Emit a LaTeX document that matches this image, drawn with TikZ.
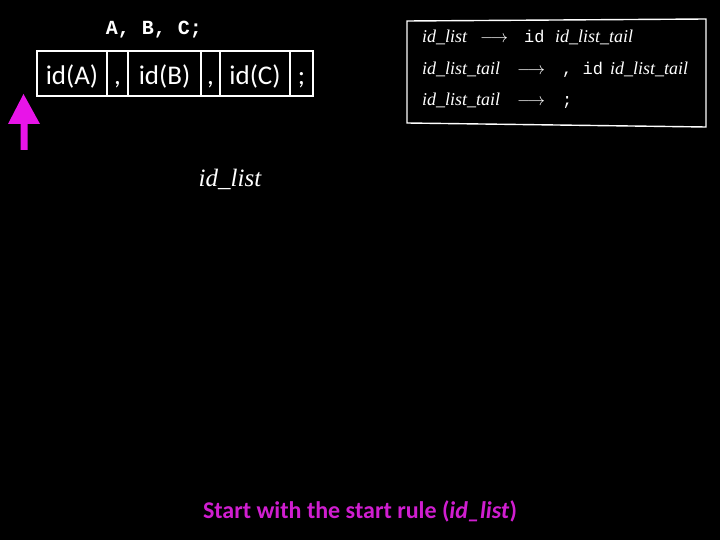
\documentclass[tikz,border=0pt]{standalone}
\usepackage{fontspec}
\setmainfont{Carlito}
\newfontfamily\serifit{Liberation Serif}
\newfontfamily\monof{Liberation Mono}
\definecolor{mag}{RGB}{232,20,232}
\definecolor{magtxt}{RGB}{208,30,208}
\begin{document}
\begin{tikzpicture}[x=1pt,y=-1pt,
  cell/.style={draw=white,line width=2.6pt,minimum height=45pt,inner sep=0pt,text height=23pt,text depth=0pt,text=white,font=\fontsize{27}{29}\selectfont},
  rule/.style={anchor=base west,inner sep=0pt,text=white,font=\serifit\itshape\fontsize{18}{20}\selectfont},
  rmono/.style={anchor=base west,inner sep=0pt,text=white,font=\monof\fontsize{17}{19}\selectfont},
  rarrow/.style={anchor=base west,inner sep=0pt,text=white,font=\fontsize{19}{21}\selectfont}]
\fill[black] (0,0) rectangle (720,540);
\useasboundingbox (0,0) rectangle (720,540);
% input text
\node[anchor=base,inner sep=0pt,text=white,font=\monof\bfseries\fontsize{20}{22}\selectfont] (src) at (154,35) {A, B, C;};
% token cells
\node[cell,minimum width=70pt] (ca) at (72,73.5) {id(A)};
\node[cell,minimum width=21pt] (c1) at (117.5,73.5) {,};
\node[cell,minimum width=73pt] (cb) at (164.5,73.5) {id(B)};
\node[cell,minimum width=19pt] (c2) at (210.5,73.5) {,};
\node[cell,minimum width=70pt] (cc) at (255,73.5) {id(C)};
\node[cell,minimum width=23pt] (c3) at (301.5,73.5) {;};
% magenta pointer arrow
\fill[mag] (23.5,94) -- (40,124) -- (27.5,124) -- (27.5,150) -- (20.5,150) -- (20.5,124) -- (8,124) -- cycle;
% grammar box
\draw[white,line width=1.4pt] (407,21) -- (706,19) -- (706,127) -- (407,123) -- cycle;
\node[rule] (r1l) at (422,43) {id\_list};
\node[rarrow] (r1a) at (480,43) {$\longrightarrow$};
\node[rmono] (r1i) at (524,43) {id};
\node[rule] (r1t) at (555,43) {id\_list\_tail};
\node[rule] (r2l) at (422,75) {id\_list\_tail};
\node[rarrow] (r2a) at (517,75) {$\longrightarrow$};
\node[rmono] (r2i) at (562,75) {, id};
\node[rule] (r2t) at (610,75) {id\_list\_tail};
\node[rule] (r3l) at (422,106) {id\_list\_tail};
\node[rarrow] (r3a) at (517,106) {$\longrightarrow$};
\node[rmono] (r3i) at (562,106) {;};
% parse tree root
\node[anchor=base,inner sep=0pt,text=white,font=\serifit\itshape\fontsize{25}{27}\selectfont] (root) at (230,187) {id\_list};
% caption
\node[anchor=base,inner sep=0pt,text=magtxt,font=\bfseries\fontsize{24}{26}\selectfont] (cap) at (360,518) {Start with the start rule (\textit{id\_list})};
\end{tikzpicture}
\end{document}
